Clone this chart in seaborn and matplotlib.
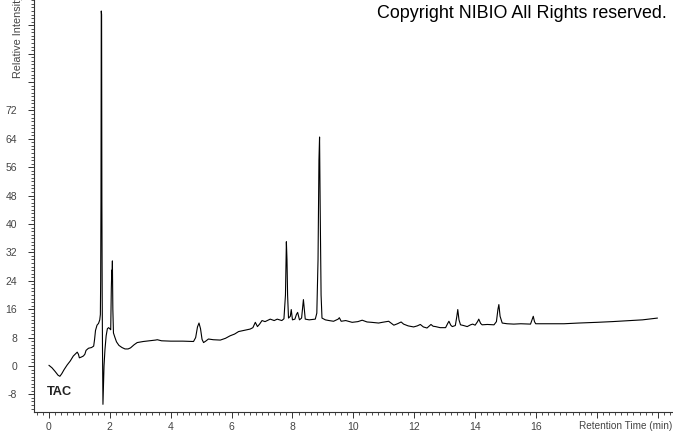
import matplotlib
matplotlib.use("Agg")
import matplotlib.pyplot as plt
import numpy as np
import pandas as pd
import seaborn as sns
from matplotlib.ticker import MultipleLocator

# Chromatogramm (TAC), Werte
retention_time = [
    0.00, 0.10, 0.20, 0.30, 0.36, 0.42, 0.50, 0.60, 0.70, 0.80, 0.88, 0.93, 0.97,
    1.00, 1.06, 1.13, 1.18, 1.22, 1.30, 1.40, 1.47, 1.50, 1.53, 1.58, 1.63, 1.67,
    1.69, 1.70, 1.71, 1.72, 1.73, 1.74, 1.75, 1.76, 1.775, 1.79, 1.81, 1.84, 1.88,
    1.92, 1.96, 2.00, 2.03, 2.05, 2.065, 2.075, 2.085, 2.10, 2.12, 2.17, 2.22, 2.30,
    2.40, 2.50, 2.60, 2.68, 2.80, 2.90, 3.10, 3.30, 3.50, 3.56, 3.70, 4.00, 4.40,
    4.75, 4.82, 4.88, 4.93, 4.98, 5.03, 5.08, 5.15, 5.24, 5.40, 5.63, 5.80, 5.95,
    6.10, 6.23, 6.40, 6.61, 6.70, 6.78, 6.85, 6.92, 7.00, 7.10, 7.27, 7.40, 7.50,
    7.65, 7.72, 7.77, 7.80, 7.82, 7.84, 7.87, 7.93, 7.96, 8.00, 8.08, 8.13, 8.17,
    8.23, 8.30, 8.36, 8.42, 8.55, 8.75, 8.80, 8.84, 8.87, 8.89, 8.91, 8.94, 8.97,
    9.08, 9.20, 9.35, 9.50, 9.54, 9.60, 9.75, 9.96, 10.15, 10.29, 10.45, 10.60,
    10.83, 10.95, 11.16, 11.25, 11.33, 11.45, 11.57, 11.65, 11.80, 11.98, 12.10,
    12.20, 12.30, 12.42, 12.50, 12.55, 12.62, 12.70, 12.85, 13.03, 13.10, 13.14,
    13.20, 13.25, 13.35, 13.40, 13.43, 13.47, 13.52, 13.62, 13.74, 13.85, 13.92,
    14.00, 14.08, 14.12, 14.18, 14.23, 14.40, 14.62, 14.70, 14.75, 14.78, 14.82,
    14.89, 15.05, 15.27, 15.50, 15.82, 15.87, 15.91, 15.95, 15.99, 16.40, 16.92,
    17.40, 18.00, 18.50, 19.11, 19.50, 19.99,
]
intensity = [
    0.2, -0.5, -1.5, -2.6, -2.9, -2.2, -1.0, 0.3, 1.4, 2.8, 3.5, 3.9, 3.3,
    2.3, 2.5, 2.8, 3.3, 4.4, 5.0, 5.2, 5.6, 7.5, 10.0, 11.5, 12.0, 13.0,
    14.5, 24.0, 46.0, 100.0, 99.0, 46.0, 20.0, 5.0, -10.8, -6.0, 0.0, 4.5, 8.5,
    10.5, 10.8, 10.5, 10.2, 22.0, 27.0, 25.0, 29.6, 16.0, 9.3, 8.0, 6.8, 5.8,
    5.2, 4.8, 4.8, 5.1, 6.0, 6.6, 6.9, 7.1, 7.3, 7.4, 7.1, 7.0, 7.0,
    6.9, 8.0, 11.0, 12.1, 10.5, 7.5, 6.6, 7.0, 7.6, 7.4, 7.3, 7.8, 8.5,
    9.0, 9.7, 10.0, 10.4, 10.8, 12.3, 11.1, 11.8, 12.8, 12.5, 13.2, 12.8, 13.2,
    12.8, 13.3, 20.0, 35.0, 30.0, 20.0, 13.5, 14.0, 15.9, 13.0, 13.2, 14.5, 15.1,
    13.0, 13.5, 18.7, 13.2, 13.0, 13.2, 14.9, 30.0, 58.0, 64.5, 45.0, 20.0, 13.5,
    13.0, 12.8, 12.6, 13.2, 13.6, 12.6, 12.8, 12.3, 12.5, 12.9, 12.4, 12.3,
    12.1, 12.3, 12.6, 12.0, 11.5, 11.9, 12.4, 11.8, 11.3, 11.0, 11.3,
    11.7, 11.0, 10.7, 11.3, 11.7, 11.2, 11.1, 10.8, 10.8, 12.0, 12.6,
    11.5, 11.1, 11.4, 14.0, 15.9, 13.0, 11.6, 11.4, 11.1, 11.6, 11.8,
    11.5, 12.5, 13.2, 12.0, 11.6, 11.7, 11.6, 12.5, 16.0, 17.3, 14.0,
    12.1, 11.9, 11.8, 11.9, 11.8, 13.0, 14.0, 12.5, 11.9, 11.9, 11.9,
    12.1, 12.3, 12.5, 12.8, 13.0, 13.5,
]

x_ticks = [0, 2, 4, 6, 8, 10, 12, 14, 16, 18, 20]
x_labels = ["0", "2", "4", "6", "8", "10", "12", "14", "16", "", ""]
y_ticks = [-8, 0, 8, 16, 24, 32, 40, 48, 56, 64, 72, 80, 88, 96]
y_labels = ["-8", "0", "8", "16", "24", "32", "40", "48", "56", "64", "72", "", "", ""]

sns.set_theme(style="white")
plt.rcParams["font.family"] = ["Liberation Sans", "DejaVu Sans"]

df = pd.DataFrame({"time": retention_time, "intensity": intensity})

W, H = 673, 433
fig = plt.figure(figsize=(W / 100, H / 100), dpi=100)
ax = fig.add_axes([34 / W, 21 / H, 1 - 34 / W, 1 - 21 / H])

sns.lineplot(data=df, x="time", y="intensity", ax=ax, color="black",
             linewidth=0.8, estimator=None, sort=False)

ax.set_xlim(-0.49, 20.5)
ax.set_ylim(-12.96, 103.1)
ax.set_xlabel("")
ax.set_ylabel("")

ax.set_xticks(x_ticks)
ax.set_xticklabels(x_labels)
ax.set_yticks(y_ticks)
ax.set_yticklabels(y_labels)
ax.xaxis.set_minor_locator(MultipleLocator(0.2))
ax.yaxis.set_minor_locator(MultipleLocator(1))

for side in ["top", "right"]:
    ax.spines[side].set_visible(False)
for side in ["left", "bottom"]:
    ax.spines[side].set_color("#333333")
    ax.spines[side].set_linewidth(0.8)

ax.tick_params(which="major", direction="out", length=4.3, width=0.7,
               color="#333333", labelsize=7.5, labelcolor="#444444",
               bottom=True, left=True)
ax.tick_params(which="minor", direction="out", length=2.2, width=0.6,
               color="#333333", bottom=True, left=True)
ax.tick_params(axis="y", which="major", pad=8)
ax.tick_params(axis="x", which="major", pad=3)

ax.text(-0.06, -7.4, "TAC", fontsize=9.2, fontweight="bold", color="#222222",
        ha="left", va="center")

fig.text(18 / W, 1 - 78 / H, "Relative Intensity", rotation=90, fontsize=7.8,
         color="#444444", ha="center", va="bottom")
fig.text(672 / W, 1 - 426 / H, "Retention Time (min)", fontsize=7.2,
         color="#444444", ha="right", va="center")
fig.text(667 / W, 1 - 14 / H, "Copyright NIBIO All Rights reserved.",
         fontsize=12.9, color="black", ha="right", va="center")

fig.savefig("out.png", dpi=100)
plt.close(fig)
